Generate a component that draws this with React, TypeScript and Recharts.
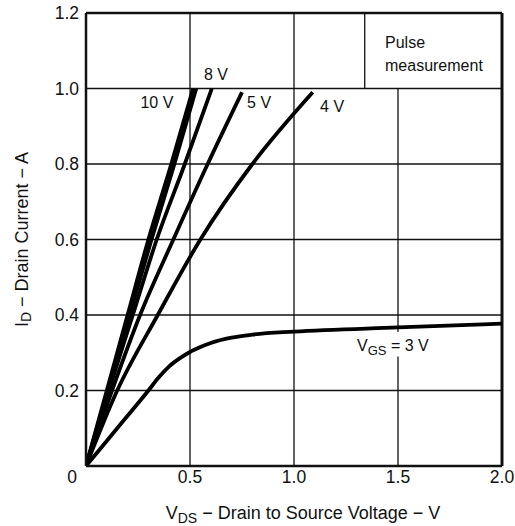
import { LineChart, Line, CartesianGrid, XAxis, YAxis, ReferenceLine, ReferenceDot } from 'recharts'

// VDS (V) / ID (A) pairs
const vgs10V = [[0, 0], [0.1, 0.2], [0.2, 0.4], [0.3, 0.6], [0.41, 0.8], [0.515, 1.0]]
const vgs6V = [[0, 0], [0.105, 0.2], [0.21, 0.4], [0.315, 0.6], [0.425, 0.8], [0.53, 1.0]]
const vgs8V = [[0, 0], [0.11, 0.2], [0.225, 0.4], [0.34, 0.6], [0.475, 0.8], [0.605, 1.0]]
const vgs5V = [[0, 0], [0.125, 0.2], [0.26, 0.4], [0.42, 0.6], [0.585, 0.8], [0.75, 0.99]]
const vgs4V = [[0, 0], [0.15, 0.2], [0.345, 0.4], [0.55, 0.6], [0.8, 0.8], [1.09, 0.99]]
const vgs3V = [
  [0, 0], [0.15, 0.1], [0.3, 0.2], [0.35, 0.235], [0.4, 0.264], [0.45, 0.285],
  [0.5, 0.302], [0.55, 0.315], [0.6, 0.326], [0.7, 0.34], [0.8, 0.348],
  [1.0, 0.356], [1.5, 0.367], [2.0, 0.377],
]

const xTicks = [0, 0.5, 1.0, 1.5, 2.0]
const yTicks = [0, 0.2, 0.4, 0.6, 0.8, 1.0, 1.2]

const curveLabels = [
  { text: '10 V', x: 0.341, y: 0.964 },
  { text: '8 V', x: 0.625, y: 1.036 },
  { text: '5 V', x: 0.832, y: 0.964 },
  { text: '4 V', x: 1.183, y: 0.951 },
]
const noteLines = [
  { text: 'Pulse', x: 1.4375, y: 1.123 },
  { text: 'measurement', x: 1.4375, y: 1.06 },
]

const FONT = '"Liberation Sans", Arial, Helvetica, sans-serif'

const toPoints = (arr: number[][]) => arr.map(([x, y]) => ({ x, y }))

const series = [vgs10V, vgs6V, vgs8V, vgs5V, vgs4V, vgs3V].map(toPoints)

function XTick(props: any) {
  const { x, y, payload } = props
  const v = payload.value
  const txt = v === 0 ? '0' : v.toFixed(1)
  return (
    <text x={v === 0 ? x - 14 : x} y={y + 15} textAnchor="middle" fontSize={17.5} fontFamily={FONT} fill="#111">
      {txt}
    </text>
  )
}

function YTick(props: any) {
  const { x, y, payload } = props
  if (payload.value === 0) return null
  return (
    <text x={x} y={y} textAnchor="end" dominantBaseline="central" fontSize={17.5} fontFamily={FONT} fill="#111">
      {payload.value.toFixed(1)}
    </text>
  )
}

function textLabel(text: string, anchor: 'start' | 'middle', size = 16) {
  return (props: any) => {
    const vb = props.viewBox
    const cx = vb.x + (vb.width || 0) / 2
    const cy = vb.y + (vb.height || 0) / 2
    return (
      <text x={cx} y={cy} textAnchor={anchor} dominantBaseline="central" fontSize={size} fontFamily={FONT} fill="#111">
        {text}
      </text>
    )
  }
}

function vgsLabel(props: any) {
  const vb = props.viewBox
  const cx = vb.x + (vb.width || 0) / 2
  const cy = vb.y + (vb.height || 0) / 2
  return (
    <text x={cx} y={cy + 6} fontSize={16} fontFamily={FONT} fill="#111">
      <tspan>V</tspan>
      <tspan dy={4} fontSize={13}>GS</tspan>
      <tspan dy={-4}> = 3 V</tspan>
    </text>
  )
}

function yTitle(props: any) {
  const vb = props.viewBox
  const cy = vb.y + vb.height / 2
  return (
    <text x={22} y={cy} transform={`rotate(-90, 22, ${cy})`} textAnchor="middle" dominantBaseline="central" fontSize={18} fontFamily={FONT} fill="#111">
      <tspan>I</tspan>
      <tspan dy={4} fontSize={14}>D</tspan>
      <tspan dy={-4}> − Drain Current − A</tspan>
    </text>
  )
}

function xTitle(props: any) {
  const vb = props.viewBox
  const cx = vb.x + vb.width / 2 + 9
  return (
    <text x={cx} y={519} textAnchor="middle" fontSize={18} fontFamily={FONT} fill="#111">
      <tspan>V</tspan>
      <tspan dy={4} fontSize={14}>DS</tspan>
      <tspan dy={-4}> − Drain to Source Voltage − V</tspan>
    </text>
  )
}

export default function App() {
  return (
    <div style={{ position: 'absolute', left: 0, top: 0, background: '#fff' }}>
      <LineChart width={515} height={526} margin={{ top: 13, right: 13, bottom: 0, left: 0 }}>
        <CartesianGrid vertical={false} stroke="#111" strokeWidth={1.3} />
        <XAxis
          type="number"
          dataKey="x"
          domain={[0, 2]}
          ticks={xTicks}
          tick={<XTick />}
          tickLine={false}
          tickSize={0}
          height={60}
          axisLine={{ stroke: '#111', strokeWidth: 2.5 }}
          allowDataOverflow
          label={{ content: xTitle }}
        />
        <YAxis
          type="number"
          dataKey="y"
          domain={[0, 1.2]}
          ticks={yTicks}
          tick={<YTick />}
          tickLine={false}
          tickSize={0}
          tickMargin={7}
          width={86}
          axisLine={{ stroke: '#111', strokeWidth: 2.5 }}
          allowDataOverflow
          label={{ content: yTitle }}
        />
        <ReferenceLine x={0.5} stroke="#111" strokeWidth={1.3} />
        <ReferenceLine x={1.0} stroke="#111" strokeWidth={1.3} />
        <ReferenceLine segment={[{ x: 1.5, y: 0 }, { x: 1.5, y: 0.29 }]} stroke="#111" strokeWidth={1.3} />
        <ReferenceLine segment={[{ x: 1.5, y: 0.355 }, { x: 1.5, y: 1.0 }]} stroke="#111" strokeWidth={1.3} />
        <ReferenceLine segment={[{ x: 1.34, y: 1.0 }, { x: 1.34, y: 1.2 }]} stroke="#111" strokeWidth={1.3} />
        <ReferenceLine y={1.2} stroke="#111" strokeWidth={2.5} />
        <ReferenceLine x={2.0} stroke="#111" strokeWidth={3} />
        {series.map((pts, i) => (
          <Line
            key={i}
            data={pts}
            dataKey="y"
            type="monotone"
            stroke="#000"
            strokeWidth={3.8}
            dot={false}
            activeDot={false}
            isAnimationActive={false}
          />
        ))}
        {curveLabels.map((l) => (
          <ReferenceDot key={l.text} x={l.x} y={l.y} r={1} fill="none" stroke="none" label={{ content: textLabel(l.text, 'middle') }} />
        ))}
        {noteLines.map((l) => (
          <ReferenceDot key={l.text} x={l.x} y={l.y} r={1} fill="none" stroke="none" label={{ content: textLabel(l.text, 'start') }} />
        ))}
        <ReferenceDot x={1.303} y={0.32} r={1} fill="none" stroke="none" label={{ content: vgsLabel }} />
      </LineChart>
    </div>
  )
}
